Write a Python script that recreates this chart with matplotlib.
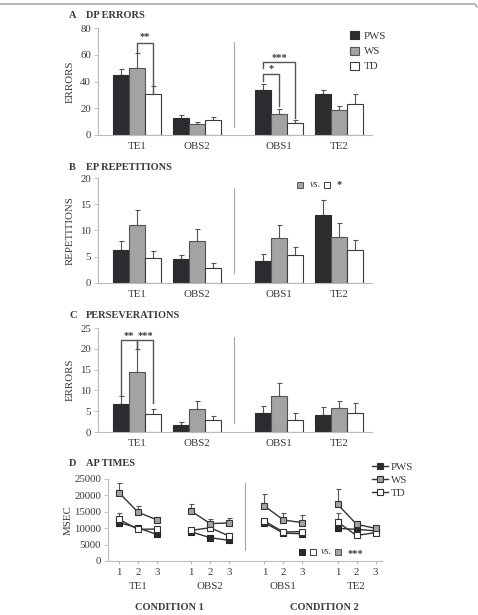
import numpy as np
import matplotlib.pyplot as plt
from matplotlib.patches import Patch
from matplotlib.lines import Line2D

plt.rcParams['font.family'] = ['Liberation Serif', 'DejaVu Serif']
plt.rcParams['font.size'] = 7

# ---- data ----
groups = ['TE1', 'OBS2', 'OBS1', 'TE2']
series = ['PWS', 'WS', 'TD']

dp_pws = [45, 13, 34, 30.5]
dp_ws = [50, 8, 16, 18.5]
dp_td = [31, 11, 9, 23.5]
dp_pws_se = [4, 2, 4.5, 3.5]
dp_ws_se = [11, 2, 3.5, 3.5]
dp_td_se = [5.5, 2.5, 2, 7]

ep_pws = [6.3, 4.5, 4.1, 12.9]
ep_ws = [11.0, 7.9, 8.45, 8.7]
ep_td = [4.65, 2.75, 5.2, 6.2]
ep_pws_se = [1.6, 0.8, 1.3, 2.9]
ep_ws_se = [2.9, 2.35, 2.6, 2.7]
ep_td_se = [1.35, 0.95, 1.6, 2.0]

pe_pws = [6.7, 1.75, 4.65, 4.2]
pe_ws = [14.4, 5.5, 8.6, 5.85]
pe_td = [4.35, 2.9, 2.9, 4.65]
pe_pws_se = [2.0, 0.65, 1.55, 1.8]
pe_ws_se = [5.5, 1.9, 3.1, 1.65]
pe_td_se = [1.15, 0.95, 1.6, 2.25]

trials = ['1', '2', '3']
ap_pws = [11700, 10100, 8100, 8900, 7100, 6300, 11700, 8500, 8300, 9950, 9650, 9200]
ap_ws = [20800, 14900, 12500, 15200, 11400, 11600, 16800, 12500, 11700, 17300, 11200, 9950]
ap_td = [12700, 9650, 9750, 9350, 10150, 7600, 12200, 8850, 8950, 11900, 7800, 8650]
ap_ws_se = [2850, 1950, 1000, 2050, 1500, 1600, 3550, 2250, 2250, 4550, 700, 0]
ap_td_se = [2050, 0, 0, 0, 0, 0, 0, 0, 0, 2650, 0, 0]

# ---- style ----
c_pws, c_ws, c_td = '#2b2b30', '#a3a3a3', 'white'
edge = '#3a3a3a'
txt = '#3a3a3a'
spine = '#bbbbbb'
W, H = 478, 615

fig = plt.figure(figsize=(W / 100, H / 100), dpi=100)

def ax_at(x0, x1, y_bottom, y_top):
    return fig.add_axes([x0 / W, 1 - y_bottom / H, (x1 - x0) / W, (y_bottom - y_top) / H])

def style(ax):
    for s in ['top', 'right']:
        ax.spines[s].set_visible(False)
    for s in ['left', 'bottom']:
        ax.spines[s].set_color(spine)
        ax.spines[s].set_linewidth(0.8)
    ax.tick_params(axis='y', colors=spine, labelcolor=txt, length=3, width=0.6, labelsize=7.8, pad=2)
    ax.tick_params(axis='x', colors=spine, labelcolor=txt, labelsize=7.8)

gc = np.array([0, 3.75, 8.875, 12.625])

def bar_panel(ax, vals, ses, ymax, step, ylabel):
    cols = [c_pws, c_ws, c_td]
    ecs = ['#2b2b30', '#555555', edge]
    for i, (v, se, c, ec) in enumerate(zip(vals, ses, cols, ecs)):
        x = gc + (i - 1)
        ax.bar(x, v, width=1, color=c, edgecolor=ec, linewidth=0.8, zorder=2)
        ax.errorbar(x, v, yerr=[np.zeros(len(v)), se], fmt='none', ecolor='#555555',
                    elinewidth=0.8, capsize=1.8, capthick=0.8, zorder=1)
    ax.set_xlim(-2.44, 14.69)
    ax.set_ylim(0, ymax)
    ax.set_yticks(np.arange(0, ymax + 0.1, step))
    ax.set_xticks(gc)
    ax.set_xticklabels(groups)
    ax.tick_params(axis='x', length=0, pad=5)
    ax.set_ylabel(ylabel, color=txt, fontsize=7.8)
    ax.yaxis.set_label_coords(-0.084, 0.5)
    style(ax)

def sep(ax, x, lo, hi):
    ax.axvline(x, ymin=lo, ymax=hi, color='#aaaaaa', lw=0.8)

def bracket(ax, x0, x1, y0, y1, ytop, label, ly):
    ax.plot([x0, x0, x1, x1], [y0, ytop, ytop, y1], color='#555555', lw=1, clip_on=False, zorder=3)
    ax.text((x0 + x1) / 2, ly, label, ha='center', va='center', color=txt, fontsize=7.5,
            fontweight='bold', clip_on=False)

def title(y, letter, text):
    fig.text(69 / W, 1 - y / H, letter, ha='left', va='center', fontsize=7.5, fontweight='bold', color=txt)
    fig.text(86 / W, 1 - y / H, text, ha='left', va='center', fontsize=7.5, fontweight='bold', color=txt)

# ---- Panel A ----
axA = ax_at(98, 372, 135, 28)
bar_panel(axA, [dp_pws, dp_ws, dp_td], [dp_pws_se, dp_ws_se, dp_td_se], 80, 20, 'ERRORS')
sep(axA, 6.06, 0.075, 0.87)
bracket(axA, gc[0], gc[0] + 1, 61.5, 31, 68.5, '**', 73.5)
bracket(axA, gc[2] - 1, gc[2], 40.5, 21.5, 45.5, '*', 49.5)
bracket(axA, gc[2] - 1, gc[2] + 1, 50, 13, 54.5, '***', 58)
handles = [Patch(facecolor=c, edgecolor=e, linewidth=0.8, label=s)
           for c, e, s in zip([c_pws, c_ws, c_td], ['#2b2b30', '#555555', edge], series)]
fig.legend(handles=handles, loc='upper left', bbox_to_anchor=(345 / W, 1 - 26 / H), frameon=False,
           fontsize=7.8, handlelength=0.75, handleheight=0.75, handletextpad=0.5,
           labelspacing=0.5, borderpad=0, labelcolor=txt)
title(15, 'A', 'DP ERRORS')

# ---- Panel B ----
axB = ax_at(98, 372, 282.7, 178)
bar_panel(axB, [ep_pws, ep_ws, ep_td], [ep_pws_se, ep_ws_se, ep_td_se], 20, 5, 'REPETITIONS')
sep(axB, 6.06, 0.096, 0.905)
tr = axB.transAxes
axB.plot([0.737], [0.935], 's', ms=4.5, mfc=c_ws, mec='#555555', mew=0.7, transform=tr, clip_on=False)
axB.text(0.772, 0.935, 'vs.', style='italic', color=txt, fontsize=7.5, va='center', transform=tr)
axB.plot([0.836], [0.935], 's', ms=4.5, mfc=c_td, mec=edge, mew=0.7, transform=tr, clip_on=False)
axB.text(0.870, 0.935, '*', color=txt, fontsize=7.5, fontweight='bold', va='center', transform=tr)
title(167.7, 'B', 'EP REPETITIONS')

# ---- Panel C ----
axC = ax_at(98, 372, 432, 328)
bar_panel(axC, [pe_pws, pe_ws, pe_td], [pe_pws_se, pe_ws_se, pe_td_se], 25, 5, 'ERRORS')
sep(axC, 6.06, 0.09, 0.91)
bracket(axC, gc[0] - 1, gc[0], 8.8, 20.0, 22.2, '**', 23.2)
bracket(axC, gc[0], gc[0] + 1, 20.0, 7.0, 22.2, '***', 23.2)
title(315, 'C', 'PERSEVERATIONS')

# ---- Panel D ----
axD = ax_at(108, 382, 561, 479)
base = np.array([0, 3.8, 7.65, 11.5])
xpos = (base[:, None] + np.arange(3)[None, :]).ravel()
specs = [(ap_pws, None, c_pws, '#222222'), (ap_td, ap_td_se, c_td, '#333333'), (ap_ws, ap_ws_se, c_ws, '#333333')]
for vals, se, fc, ec in specs:
    vals = np.array(vals)
    if se is not None:
        se = np.array(se)
        m = se > 0
        axD.errorbar(xpos[m], vals[m], yerr=[np.zeros(m.sum()), se[m]], fmt='none', ecolor='#555555',
                     elinewidth=0.8, capsize=1.8, capthick=0.8, zorder=1)
    for g in range(4):
        sl = slice(3 * g, 3 * g + 3)
        axD.plot(xpos[sl], vals[sl], '-s', color='#333333', lw=1, ms=4.5, mfc=fc, mec=ec, mew=0.8, zorder=2)
axD.set_xlim(-0.58, 13.84)
axD.set_ylim(0, 25000)
axD.set_yticks(np.arange(0, 25001, 5000))
axD.set_xticks(xpos)
axD.set_xticklabels(trials * 4)
axD.tick_params(axis='x', length=2, pad=3)
axD.set_ylabel('MSEC', color=txt, fontsize=7.8)
axD.yaxis.set_label_coords(-0.128, 0.5)
style(axD)
sep(axD, 6.63, 0.134, 0.95)
for b, g in zip(base, groups):
    axD.text(b + 1, -0.305, g, ha='center', va='center', color=txt, fontsize=7.8,
             transform=axD.get_xaxis_transform())
tr = axD.transAxes
axD.plot([0.708], [0.11], 's', ms=4.5, mfc=c_pws, mec='#222222', mew=0.7, transform=tr, clip_on=False)
axD.plot([0.748], [0.11], 's', ms=4.5, mfc=c_td, mec=edge, mew=0.7, transform=tr, clip_on=False)
axD.text(0.778, 0.11, 'vs.', style='italic', color=txt, fontsize=7.5, va='center', transform=tr)
axD.plot([0.839], [0.11], 's', ms=4.5, mfc=c_ws, mec='#555555', mew=0.7, transform=tr, clip_on=False)
axD.text(0.874, 0.09, '***', color=txt, fontsize=7.5, fontweight='bold', va='center', transform=tr)
lh = [Line2D([0], [0], color='#333333', lw=1, marker='s', ms=4.5, mfc=c, mec='#333333', mew=0.8, label=s)
      for c, s in zip([c_pws, c_ws, c_td], series)]
fig.legend(handles=lh, loc='upper left', bbox_to_anchor=(367 / W, 1 - 457 / H), frameon=False,
           fontsize=7.8, handlelength=1.4, handletextpad=0.3, labelspacing=0.3, borderpad=0,
           labelcolor=txt)
title(464, 'D', 'AP TIMES')

fig.text(169 / W, 1 - 608 / H, 'CONDITION 1', ha='center', va='center', fontsize=7.5, fontweight='bold', color=txt)
fig.text(324 / W, 1 - 608 / H, 'CONDITION 2', ha='center', va='center', fontsize=7.5, fontweight='bold', color=txt)

# thin frame line at the top
fig.add_artist(Line2D([0, 475 / W, 477 / W], [1 - 4 / H, 1 - 4 / H, 1 - 7 / H], color='#999999', lw=1))

fig.savefig('out.png', dpi=100)
